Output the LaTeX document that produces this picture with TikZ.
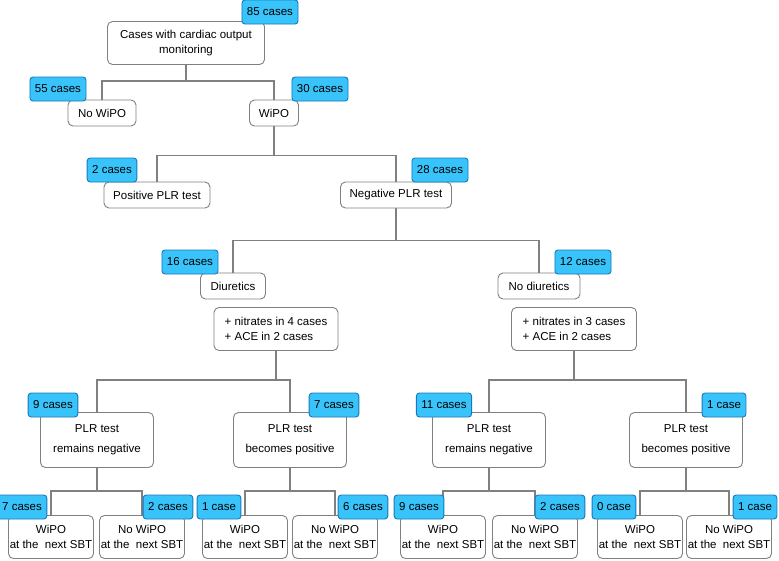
\documentclass[tikz,border=0pt]{standalone}
\usepackage{fontspec}
\setmainfont{Liberation Sans}
\usetikzlibrary{backgrounds}
\definecolor{badgeblue}{RGB}{56,196,250}
\definecolor{badgeedge}{RGB}{25,120,185}
\definecolor{linegray}{RGB}{128,128,128}
\tikzset{
  box/.style={draw=linegray, rounded corners=5pt, fill=white, line width=0.9pt,
    inner sep=2pt, minimum height=26pt, align=center,
    font=\fontsize{11.5}{15}\selectfont},
  plr/.style={box, minimum width=113pt, minimum height=55pt},
  leaf/.style={box, minimum width=85pt, minimum height=43pt, inner xsep=1pt},
  badge/.style={draw=badgeedge, fill=badgeblue, rounded corners=3pt, line width=0.9pt,
    minimum height=24pt, inner xsep=5pt, font=\fontsize{11.5}{14}\selectfont},
  link/.style={draw=linegray, line width=1.1pt}
}
\begin{document}
\begin{tikzpicture}[x=1pt,y=-1pt]
                \useasboundingbox (0,0) rectangle (779,560);
                \node[box, minimum width=157pt, minimum height=43pt] (root) at (186,43) {Cases with cardiac output\\monitoring};
                \node[box, minimum width=68pt] (nowipo) at (102,113) {No WiPO};
                \node[box, minimum width=49pt] (wipo) at (274,113) {WiPO};
                \node[box, minimum width=106pt] (pos) at (157,195) {Positive PLR test};
                \node[box, minimum width=111pt] (neg) at (396,195) {Negative PLR test};
                \node[box, minimum width=65pt] (diur) at (233,286) {Diuretics};
                \node[box, minimum width=82pt] (nodiur) at (539,286) {No diuretics};
                \node[box, align=left, minimum width=124pt, minimum height=43pt] (nitr4) at (276,329) {+ nitrates in 4 cases\\+ ACE in 2 cases};
                \node[box, align=left, minimum width=125pt, minimum height=43pt] (nitr3) at (574,329) {+ nitrates in 3 cases\\+ ACE in 2 cases};
                \node[plr] (rn4) at (97,440) {PLR test\\[5pt]remains negative};
                \node[plr] (bp4) at (290,440) {PLR test\\[5pt]becomes positive};
                \node[plr] (rn3) at (489,440) {PLR test\\[5pt]remains negative};
                \node[plr] (bp3) at (686,440) {PLR test\\[5pt]becomes positive};
                \node[leaf] (rn4wipo) at (51,537) {WiPO\\at the\ \ next SBT};
                \node[leaf] (rn4nowipo) at (142,537) {No WiPO\\at the\ \ next SBT};
                \node[leaf] (bp4wipo) at (245,537) {WiPO\\at the\ \ next SBT};
                \node[leaf] (bp4nowipo) at (335,537) {No WiPO\\at the\ \ next SBT};
                \node[leaf] (rn3wipo) at (443,537) {WiPO\\at the\ \ next SBT};
                \node[leaf] (rn3nowipo) at (535,537) {No WiPO\\at the\ \ next SBT};
                \node[leaf] (bp3wipo) at (640,537) {WiPO\\at the\ \ next SBT};
                \node[leaf] (bp3nowipo) at (729,537) {No WiPO\\at the\ \ next SBT};
                \begin{scope}[on background layer]
                \draw[link] (root.south) -- ++(0,16) -| (nowipo.north);
                \draw[link] (root.south) -- ++(0,16) -| (wipo.north);
                \draw[link] (wipo.south) -- ++(0,29) -| (pos.north);
                \draw[link] (wipo.south) -- ++(0,29) -| (neg.north);
                \draw[link] (neg.south) -- ++(0,32) -| (diur.north);
                \draw[link] (neg.south) -- ++(0,32) -| (nodiur.north);
                \draw[link] (nitr4.south) -- ++(0,29) -| (rn4.north);
                \draw[link] (nitr4.south) -- ++(0,29) -| (bp4.north);
                \draw[link] (nitr3.south) -- ++(0,29) -| (rn3.north);
                \draw[link] (nitr3.south) -- ++(0,29) -| (bp3.north);
                \draw[link] (rn4.south) -- ++(0,23) -| (rn4wipo.north);
                \draw[link] (rn4.south) -- ++(0,23) -| (rn4nowipo.north);
                \draw[link] (bp4.south) -- ++(0,23) -| (bp4wipo.north);
                \draw[link] (bp4.south) -- ++(0,23) -| (bp4nowipo.north);
                \draw[link] (rn3.south) -- ++(0,23) -| (rn3wipo.north);
                \draw[link] (rn3.south) -- ++(0,23) -| (rn3nowipo.north);
                \draw[link] (bp3.south) -- ++(0,23) -| (bp3wipo.north);
                \draw[link] (bp3.south) -- ++(0,23) -| (bp3nowipo.north);
                \end{scope}
                \node[badge] (nroot) at (270,12) {85 cases};
                \node[badge] (nnowipo) at (58,89) {55 cases};
                \node[badge] (nwipo) at (320,89) {30 cases};
                \node[badge] (npos) at (112,170) {2 cases};
                \node[badge] (nneg) at (440,170) {28 cases};
                \node[badge] (ndiur) at (190,262) {16 cases};
                \node[badge] (nnodiur) at (583,262) {12 cases};
                \node[badge] (nrn4) at (53,405) {9 cases};
                \node[badge] (nbp4) at (334,405) {7 cases};
                \node[badge] (nrn3) at (444,405) {11 cases};
                \node[badge] (nbp3) at (724,405) {1 case};
                \node[badge] (nrn4wipo) at (22,507) {7 cases};
                \node[badge] (nrn4nowipo) at (168,507) {2 cases};
                \node[badge] (nbp4wipo) at (219,507) {1 case};
                \node[badge] (nbp4nowipo) at (363,507) {6 cases};
                \node[badge] (nrn3wipo) at (419,507) {9 cases};
                \node[badge] (nrn3nowipo) at (560,507) {2 cases};
                \node[badge] (nbp3wipo) at (614,507) {0 case};
                \node[badge] (nbp3nowipo) at (755,507) {1 case};
                \end{tikzpicture}
\end{document}
